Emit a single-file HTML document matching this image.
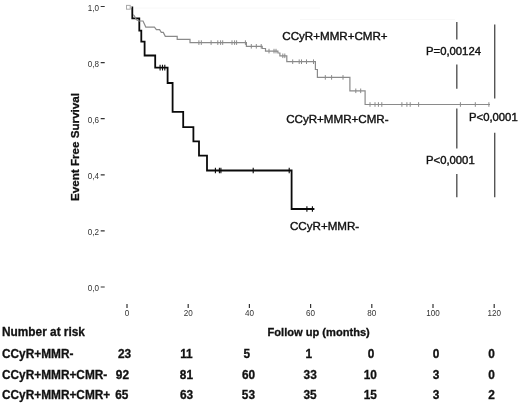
<!DOCTYPE html>
<html><head><meta charset="utf-8">
<style>
html,body{margin:0;padding:0;background:#fff;}
body{width:520px;height:406px;overflow:hidden;position:relative;font-family:"Liberation Sans",Arial,sans-serif;}
svg{position:absolute;left:0;top:0;display:block;}
text{font-family:"Liberation Sans",Arial,sans-serif;}
.lab{font-size:11.6px;fill:#111;stroke:#111;stroke-width:0.4px;}
.b{font-weight:bold;font-size:11.85px;fill:#111;stroke:#111;stroke-width:0.3px;}
.ax{font-size:8.1px;fill:#333;}
</style></head><body>
<svg width="520" height="406" viewBox="0 0 520 406">
<g style="filter:blur(0.45px)">
<!-- faint top line -->
<path d="M135,8 H320 M300,19.5 H455" stroke="#f8f8f8" stroke-width="1" fill="none"/>
<!-- y axis ticks -->
<g stroke="#333" stroke-width="1.2">
<path d="M100.7,6.5h4 M100.7,62.6h4 M100.7,118.7h4 M100.7,174.8h4 M100.7,230.9h4 M100.7,287.0h4"/>
</g>
<g class="ax" text-anchor="end">
<text transform="translate(98.9,10.6) scale(1,1.1)">1,0</text>
<text transform="translate(98.9,66.7) scale(1,1.1)">0,8</text>
<text transform="translate(98.9,122.8) scale(1,1.1)">0,6</text>
<text transform="translate(98.9,178.9) scale(1,1.1)">0,4</text>
<text transform="translate(98.9,235.0) scale(1,1.1)">0,2</text>
<text transform="translate(98.9,291.1) scale(1,1.1)">0,0</text>
</g>
<!-- x axis ticks -->
<g stroke="#333" stroke-width="1.2">
<path d="M127,304v4 M188.2,304v4 M249.4,304v4 M310.6,304v4 M371.8,304v4 M433,304v4 M494.2,304v4"/>
</g>
<g class="ax" text-anchor="middle" transform="translate(0,316.4) scale(1,1.1)">
<text x="127" y="0">0</text>
<text x="188.2" y="0">20</text>
<text x="249.4" y="0">40</text>
<text x="310.6" y="0">60</text>
<text x="371.8" y="0">80</text>
<text x="433" y="0">100</text>
<text x="494.2" y="0">120</text>
</g>
<!-- black curve -->
<g stroke="#0a0a0a" stroke-width="1.8" fill="none">
<path d="M132.3,6.5 V18.3 H139.3 V30.6 H141.3 V41.6 H144.6 V55.5 H155.2 V67.6 H167.6 V83 H172.6 V111.9 H183.2 V127.1 H193.4 V141.3 H199 V155.6 H207 V170.5 H291.6 V209 H314.4"/>
<path d="M160.1,64.8v5.6 M162.5,64.8v5.6 M164.8,64.8v5.6 M215.4,167.7v5.6 M219.4,167.7v5.6 M220.9,167.7v5.6 M253.2,167.7v5.6 M289.2,167.7v5.6 M306.9,206.2v5.6 M312.4,206.2v5.6" stroke-width="1.1"/>
</g>
<!-- gray curve -->
<g stroke="#8a8a8a" stroke-width="1.2" fill="none">
<rect x="126.5" y="5.4" width="3.7" height="3.8" stroke="#aaa" stroke-width="1"/>
<path d="M130.2,7.3H131.5" stroke="#bbb"/>
<path d="M133.2,14.6 L134.3,15.8 L136.3,19.6 L138.8,21 H143 L145.8,27.1 H154.4 L156.4,29.7 H159.6 L161.3,32.4 H163.3 L165.3,36.3 H177.2 V39.4 H190 V42.6 H246.4 V46.3 H262.2 V48.5 H265.5 V51.1 H277.9 V53 H279.9 V55.8 H286.8 V61.7 H315.4 V69.5 H317.4 V77.4 H349.9 V90.8 H365.1 V104.5 H490"/>
<path d="M198.9,40.300000000000004v4.6 M201.3,40.300000000000004v4.6 M211.1,40.300000000000004v4.6 M217.8,40.300000000000004v4.6 M220.6,40.300000000000004v4.6 M222.7,40.300000000000004v4.6 M232,40.300000000000004v4.6 M234.6,40.300000000000004v4.6 M236.6,40.300000000000004v4.6 M245.4,40.300000000000004v4.6 M251.3,44.0v4.6 M256.3,44.0v4.6 M261.2,44.0v4.6 M269,48.800000000000004v4.6 M274,48.800000000000004v4.6 M276,48.800000000000004v4.6 M282.8,53.5v4.6 M284.8,53.5v4.6 M292.7,59.400000000000006v4.6 M299.2,59.400000000000006v4.6 M301.5,59.400000000000006v4.6 M306.5,59.400000000000006v4.6 M313.5,59.400000000000006v4.6 M325.3,75.10000000000001v4.6 M331.6,75.10000000000001v4.6 M343,75.10000000000001v4.6 M355.8,88.5v4.6 M360.7,88.5v4.6 M370,102.2v4.6 M375,102.2v4.6 M378.4,102.2v4.6 M381.8,102.2v4.6 M401.9,102.2v4.6 M406.9,102.2v4.6 M410.2,102.2v4.6 M418.6,102.2v4.6 M460.4,102.2v4.6 M475.3,102.2v4.6 M488.9,102.2v4.6" stroke-width="1"/>
</g>
<!-- P lines -->
<g stroke="#555" stroke-width="1.4" fill="none">
<path d="M456.8,22 V39.5 M456.8,64.5 V88.8 M456.8,108.5 V148.5 M456.8,174 V197.2"/>
<path d="M494.7,24.5 V98.6 M494.7,132.8 V197.2"/>
</g>
<g class="lab">
<text x="282.3" y="40.2">CCyR+MMR+CMR+</text>
<text x="286.2" y="122.6">CCyR+MMR+CMR-</text>
<text x="290" y="229.5">CCyR+MMR-</text>
<text x="426" y="55" style="font-size:11.3px">P=0,00124</text>
<text x="469" y="121" style="font-size:11.3px">P&lt;0,0001</text>
<text x="426" y="164.3" style="font-size:11.3px">P&lt;0,0001</text>
</g>
<g class="b">
<text transform="translate(78.5,147) rotate(-90)" text-anchor="middle" style="font-size:11.65px">Event Free Survival</text>
<text x="2" y="335.5">Number at risk</text>
<text x="267.5" y="336.1" style="font-size:11.1px">Follow up (months)</text>
<text x="2" y="357.5">CCyR+MMR-</text>
<text x="2" y="379.1">CCyR+MMR+CMR-</text>
<text x="2" y="399.4">CCyR+MMR+CMR+</text>
<g text-anchor="middle">
<text x="124.5" y="357.5">23</text><text x="186.4" y="357.5">11</text><text x="246.9" y="357.5">5</text><text x="308.7" y="357.5">1</text><text x="371" y="357.5">0</text><text x="436" y="357.5">0</text><text x="491.5" y="357.5">0</text>
<text x="122.4" y="379.1">92</text><text x="186.4" y="379.1">81</text><text x="248.6" y="379.1">60</text><text x="310.2" y="379.1">33</text><text x="370.3" y="379.1">10</text><text x="436" y="379.1">3</text><text x="491.5" y="379.1">0</text>
<text x="121.8" y="399.4">65</text><text x="186.5" y="399.4">63</text><text x="248.4" y="399.4">53</text><text x="310.1" y="399.4">35</text><text x="370.3" y="399.4">15</text><text x="436" y="399.4">3</text><text x="491.5" y="399.4">2</text>
</g>
</g>
</g>
</svg>
</body></html>
